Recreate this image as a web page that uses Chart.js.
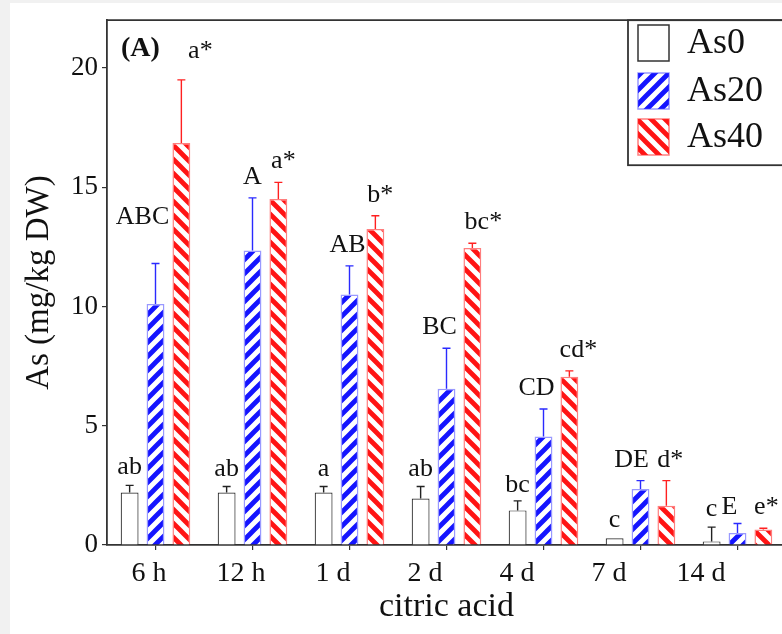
<!DOCTYPE html>
<html><head><meta charset="utf-8">
<script src="https://cdn.jsdelivr.net/npm/chart.js@4"></script>
<style>
html,body{margin:0;padding:0;width:782px;height:634px;overflow:hidden;background:#f1f1f1;}
#bg{position:absolute;left:10px;top:3px;right:0;bottom:0;background:#fff;}
#c{position:absolute;left:0;top:0;}
</style></head><body>
<div id="bg"></div>
<canvas id="c" width="800" height="634"></canvas>
<script>
// ---- data ----
const categories = ['6 h', '12 h', '1 d', '2 d', '4 d', '7 d', '14 d'];
const seriesNames = ['As0', 'As20', 'As40'];
const as0    = [2.2, 2.2, 2.2, 1.95, 1.45, 0.28, 0.15];
const as0Err = [0.3, 0.25, 0.25, 0.5, 0.4, 0.0, 0.6];
const as20    = [10.1, 12.35, 10.5, 6.55, 4.55, 2.35, 0.5];
const as20Err = [1.7, 2.2, 1.2, 1.7, 1.15, 0.35, 0.4];
const as40    = [16.85, 14.5, 13.25, 12.45, 7.05, 1.65, 0.65];
const as40Err = [2.65, 0.7, 0.55, 0.2, 0.25, 1.05, 0.05];
const as0Letters  = ['ab', 'ab', 'a', 'ab', 'bc', 'c', 'c'];
const as20Letters = ['ABC', 'A', 'AB', 'BC', 'CD', 'DE', 'E'];
const as40Letters = ['a*', 'a*', 'b*', 'bc*', 'cd*', 'd*', 'e*'];
const yTickValues = [0, 5, 10, 15, 20];

// ---- styles ----
const SERIF = '"Liberation Serif", "Times New Roman", serif';
const labelShift = { // per-series label x/y nudges (px)
  dx: [[0,0,0,0,0,0,0], [-13,0,-2,-7,-7,-9,-8], [19,5,5,11,9,4,3]],
  dy: [[-3,-3,-3,-3,-5,-3,-3], [26,0,0,0,0,0,-4], [8,0,0,0,0,0,0]]
};
const canvas = document.getElementById('c');
const ctx0 = canvas.getContext('2d');
function stripePattern(color, dir) {
  const s = 14;
  const c = document.createElement('canvas'); c.width = s; c.height = s;
  const g = c.getContext('2d');
  g.fillStyle = '#fff'; g.fillRect(0, 0, s, s);
  g.strokeStyle = color; g.lineWidth = 4.8;
  g.beginPath();
  if (dir === '/') {
    g.moveTo(-s/2, s/2); g.lineTo(s/2, -s/2);
    g.moveTo(0, s); g.lineTo(s, 0);
    g.moveTo(s/2, 1.5*s); g.lineTo(1.5*s, s/2);
  } else {
    g.moveTo(-s/2, s/2); g.lineTo(s/2, 1.5*s);
    g.moveTo(0, 0); g.lineTo(s, s);
    g.moveTo(s/2, -s/2); g.lineTo(1.5*s, s/2);
  }
  g.stroke();
  return ctx0.createPattern(c, 'repeat');
}
const errColors = ['#222', '#2a2aff', '#ff2020'];
const errs = [as0Err, as20Err, as40Err];
const letters = [as0Letters, as20Letters, as40Letters];

const overlay = {
  id: 'overlay',
  afterDatasetsDraw(chart) {
    const ctx = chart.ctx, ys = chart.scales.y, ca = chart.chartArea;
    ctx.save();
    // frame
    ctx.strokeStyle = '#333'; ctx.lineWidth = 1.8;
    ctx.beginPath(); ctx.moveTo(ca.left, ca.top); ctx.lineTo(chart.width, ca.top); ctx.stroke();
    // error bars + letters
    chart.data.datasets.forEach((ds, i) => {
      const meta = chart.getDatasetMeta(i);
      meta.data.forEach((el, j) => {
        const v = ds.data[j], e = errs[i][j];
        const yTop = ys.getPixelForValue(v + e);
        ctx.strokeStyle = errColors[i]; ctx.lineWidth = 1.4;
        if (e > 0) {
          ctx.beginPath();
          ctx.moveTo(el.x, el.y); ctx.lineTo(el.x, yTop);
          ctx.moveTo(el.x - 4, yTop); ctx.lineTo(el.x + 4, yTop);
          ctx.stroke();
        }
        ctx.fillStyle = '#111';
        ctx.font = '26px ' + SERIF;
        ctx.textAlign = 'center'; ctx.textBaseline = 'alphabetic';
        ctx.fillText(letters[i][j], el.x + labelShift.dx[i][j], yTop - 14 - labelShift.dy[i][j]);
      });
    });
    // panel label
    ctx.font = 'bold 28px ' + SERIF; ctx.textAlign = 'left'; ctx.fillStyle = '#111';
    ctx.fillText('(A)', 121, 56);
    // legend
    const lx = 628, ly = ca.top;
    ctx.fillStyle = '#fff';
    ctx.fillRect(lx, ly, chart.width - lx, 145);
    ctx.strokeStyle = '#333'; ctx.lineWidth = 1.8;
    ctx.strokeRect(lx, ly, chart.width - lx + 5, 145);
    const swY = [25, 73, 119];
    chart.data.datasets.forEach((ds, i) => {
      ctx.fillStyle = ds.backgroundColor;
      ctx.fillRect(638, swY[i], 31, 36);
      ctx.strokeStyle = i === 0 ? '#333' : ds.borderColor; ctx.lineWidth = 1.5;
      ctx.strokeRect(638, swY[i], 31, 36);
      ctx.fillStyle = '#111'; ctx.font = '36px ' + SERIF;
      ctx.textAlign = 'left'; ctx.textBaseline = 'middle';
      ctx.fillText(ds.label, 687, swY[i] + 19);
    });
    ctx.restore();
  }
};

new Chart(canvas, {
  type: 'bar',
  data: {
    labels: categories,
    datasets: [
      { label: seriesNames[0], data: as0, backgroundColor: '#fff', borderColor: '#333', borderWidth: 1.2 },
      { label: seriesNames[1], data: as20, backgroundColor: stripePattern('#1414ff', '/'), borderColor: 'rgba(70,70,255,0.55)', borderWidth: 1.5 },
      { label: seriesNames[2], data: as40, backgroundColor: stripePattern('#ff1414', '\\'), borderColor: 'rgba(255,40,40,0.6)', borderWidth: 1.5 }
    ]
  },
  options: {
    responsive: false, animation: false,
    layout: { padding: { left: 0, top: 15, right: 14, bottom: 0 } },
    datasets: { bar: { barPercentage: 0.69, categoryPercentage: 0.80 } },
    plugins: { legend: { display: false }, tooltip: { enabled: false } },
    scales: {
      x: {
        offset: true, weight: 0,
        grid: { offset: false, drawOnChartArea: false, tickLength: 5, color: '#333', lineWidth: 1.2 },
        border: { color: '#333', width: 1.8 },
        ticks: { display: false },
        afterFit(s) { s.height = 5; }
      },
      xLabels: {
        type: 'linear', position: 'bottom', weight: 1, offset: false,
        min: -0.4565, max: 6.924,
        afterBuildTicks(s) { s.ticks = categories.map((_, i) => ({ value: i })); },
        grid: { display: false, drawTicks: false },
        border: { display: false },
        ticks: { font: { family: SERIF, size: 28 }, color: '#111', padding: 7, maxRotation: 0, autoSkip: false,
                 callback: (v) => categories[v] },
        title: { display: true, text: 'citric acid', font: { family: SERIF, size: 34 }, color: '#111', padding: { top: 0, bottom: 7 } },
        afterFit(s) { s.height = 84; }
      },
      y: {
        min: 0, max: 22,
        afterBuildTicks(s) { s.ticks = yTickValues.map(v => ({ value: v })); },
        grid: { drawOnChartArea: false, tickLength: 5, color: '#333', lineWidth: 1.2 },
        border: { color: '#333', width: 1.8 },
        ticks: { font: { family: SERIF, size: 27 }, color: '#111', padding: 4 },
        title: { display: true, text: 'As (mg/kg DW)', font: { family: SERIF, size: 33 }, color: '#111', padding: { top: 20, bottom: 0 } },
        afterFit(s) { s.width = 107; }
      }
    }
  },
  plugins: [overlay]
});
</script>
</body></html>
